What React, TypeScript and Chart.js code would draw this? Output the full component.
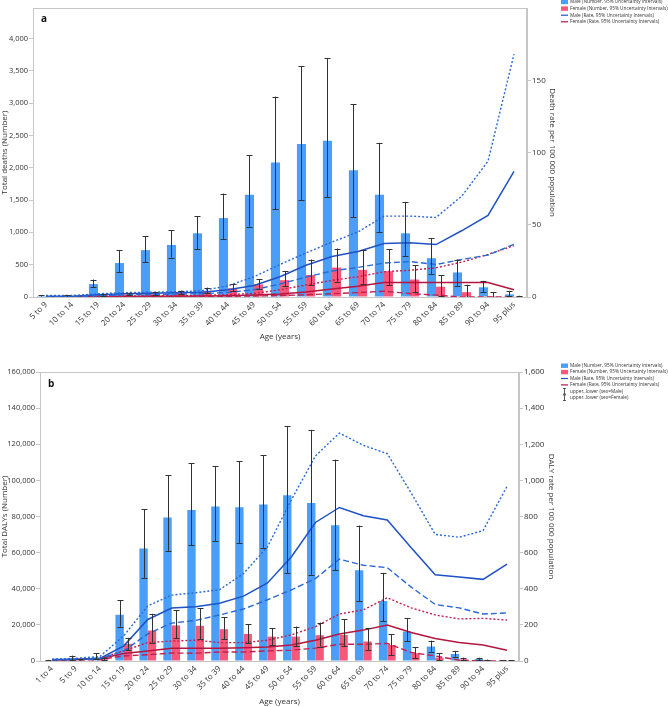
import React, { useEffect, useRef } from 'react';
import { Chart, registerables } from 'chart.js';
Chart.register(...registerables);

// ---------- Panel a: deaths ----------
const agesA = ['5 to 9', '10 to 14', '15 to 19', '20 to 24', '25 to 29', '30 to 34', '35 to 39', '40 to 44', '45 to 49', '50 to 54', '55 to 59', '60 to 64', '65 to 69', '70 to 74', '75 to 79', '80 to 84', '85 to 89', '90 to 94', '95 plus'];
const deathsMale = [15, 10, 200, 525, 725, 805, 985, 1220, 1580, 2080, 2365, 2415, 1960, 1580, 985, 600, 380, 150, 40];
const deathsMaleLow = [5, 3, 150, 380, 540, 610, 740, 900, 1090, 1360, 1500, 1540, 1230, 1000, 630, 360, 170, 70, 10];
const deathsMaleHigh = [30, 28, 270, 720, 940, 1030, 1250, 1600, 2190, 3100, 3570, 3690, 2980, 2385, 1470, 910, 580, 250, 95];
const deathsFemale = [2, 2, 30, 40, 50, 65, 95, 135, 195, 260, 340, 455, 420, 400, 270, 160, 75, 15, 5];
const deathsFemaleLow = [0, 0, 18, 25, 30, 40, 60, 90, 125, 170, 185, 235, 205, 180, 70, 10, 0, 0, 0];
const deathsFemaleHigh = [5, 5, 50, 65, 80, 100, 145, 200, 275, 395, 580, 750, 720, 740, 490, 340, 190, 75, 20];
const deathRateMale = [0.5, 0.5, 1.5, 2.2, 2.6, 2.9, 3.3, 5, 8, 14, 22, 28, 31.5, 37, 37.5, 36.3, 46, 56.5, 87];
const deathRateMaleUpper = [1, 1, 2.2, 3, 3.3, 3.6, 4.4, 7.8, 14, 22.5, 30.5, 38, 45, 56, 56, 55, 70, 94, 168];
const deathRateMaleLower = [0.2, 0.2, 0.8, 1.5, 1.8, 2, 2.3, 3.2, 5, 9, 13.8, 18, 20.5, 23.5, 24.5, 22.5, 26, 29, 36.5];
const deathRateFemale = [0.1, 0.1, 0.3, 0.4, 0.5, 0.6, 0.7, 0.9, 1.3, 2, 3.5, 5.5, 7.5, 10, 10, 10, 10, 10, 5];
const deathRateFemaleUpper = [0.2, 0.2, 0.5, 0.6, 0.8, 1, 1.2, 1.6, 2.5, 5, 8.3, 11.5, 14, 17.5, 18.5, 20.2, 24.2, 29.5, 35.5];
const deathRateFemaleLower = [0, 0, 0.1, 0.2, 0.2, 0.3, 0.3, 0.5, 0.7, 1, 1.5, 2.3, 3, 4, 2.4, 1.3, 0, 0, 0];

// ---------- Panel b: DALYs ----------
const agesB = ['1 to 4', '5 to 9', '10 to 14', '15 to 19', '20 to 24', '25 to 29', '30 to 34', '35 to 39', '40 to 44', '45 to 49', '50 to 54', '55 to 59', '60 to 64', '65 to 69', '70 to 74', '75 to 79', '80 to 84', '85 to 89', '90 to 94', '95 plus'];
const dalysMale = [300, 1500, 2100, 25600, 62300, 79500, 83600, 85500, 85100, 86600, 91800, 87500, 75100, 50200, 33200, 16300, 8000, 3900, 1100, 250];
const dalysMaleLow = [100, 550, 900, 19000, 46000, 61000, 64000, 66400, 65400, 62700, 48800, 47800, 50200, 33200, 21900, 10800, 5200, 2400, 550, 100];
const dalysMaleHigh = [600, 3000, 4300, 33700, 84000, 103000, 109500, 107800, 110500, 114000, 130000, 128000, 111500, 75000, 48800, 23800, 11300, 5600, 1850, 500];
const dalysFemale = [100, 600, 1000, 9500, 16900, 19700, 19500, 17600, 15000, 13500, 13500, 14300, 14500, 10800, 8900, 4300, 1900, 900, 400, 150];
const dalysFemaleLow = [30, 200, 400, 6100, 10200, 12600, 12100, 12100, 9800, 8900, 8300, 8000, 8300, 6100, 3300, 1500, 600, 300, 100, 50];
const dalysFemaleHigh = [200, 1100, 1800, 12800, 26100, 28000, 29300, 24300, 20400, 18200, 19100, 21300, 23200, 18200, 14800, 7600, 4300, 1900, 800, 300];
const dalyRateMale = [8, 10, 14, 84, 230, 293, 300, 320, 359, 432, 577, 767, 850, 804, 781, 627, 478, 465, 452, 536];
const dalyRateMaleUpper = [10, 15, 25, 140, 305, 365, 378, 395, 484, 633, 893, 1135, 1262, 1194, 1148, 930, 701, 685, 722, 967];
const dalyRateMaleLower = [5, 8, 12, 56, 150, 210, 225, 255, 288, 339, 394, 456, 564, 530, 517, 409, 313, 294, 260, 266];
const dalyRateFemale = [5, 8, 12, 41, 56, 71, 71, 71, 74, 78, 89, 115, 149, 171, 199, 158, 125, 102, 89, 60];
const dalyRateFemaleUpper = [6, 10, 15, 56, 102, 110, 115, 102, 102, 115, 145, 190, 260, 283, 350, 294, 255, 233, 236, 227];
const dalyRateFemaleLower = [3, 5, 8, 28, 35, 44, 43, 50, 50, 56, 60, 71, 93, 93, 97, 47, 28, 4, 0, 0];

const legendA = ['Male (Number, 95% Uncertainty Intervals)', 'Female (Number, 95% Uncertainty Intervals)', 'Male (Rate, 95% Uncertainty Intervals)', 'Female (Rate, 95% Uncertainty Intervals)'];
const legendB = [...legendA, 'upper..lower (sex=Male)', 'upper..lower (sex=Female)'];

const BLUE = '#4a9ef8';
const PINK = '#f7587a';
const MALE_LINE = '#1f52c4';
const MALE_LINE2 = '#2a68d4';
const FEMALE_LINE = '#b3163f';
const FEMALE_LINE2 = '#c02050';
const FONT = '"Open Sans", "Noto Sans", sans-serif';
const TEXT = '#333';

type ErrSpec = { ds: number; low: number[]; high: number[] };

function makeErrorPlugin(specs: ErrSpec[]) {
  return {
    id: 'errorBars',
    afterDatasetsDraw(chart: any) {
      const ctx = chart.ctx;
      const ys = chart.scales.y;
      ctx.save();
      ctx.strokeStyle = '#333';
      ctx.lineWidth = 1;
      specs.forEach((s) => {
        const meta = chart.getDatasetMeta(s.ds);
        meta.data.forEach((bar: any, j: number) => {
          const x = Math.round(bar.x) + 0.5;
          const yl = ys.getPixelForValue(s.low[j]);
          const yh = ys.getPixelForValue(s.high[j]);
          ctx.beginPath();
          ctx.moveTo(x, yl);
          ctx.lineTo(x, yh);
          ctx.moveTo(x - 3, Math.round(yl) + 0.5);
          ctx.lineTo(x + 3, Math.round(yl) + 0.5);
          ctx.moveTo(x - 3, Math.round(yh) + 0.5);
          ctx.lineTo(x + 3, Math.round(yh) + 0.5);
          ctx.stroke();
        });
      });
      ctx.restore();
    },
  };
}

type FrameCfg = {
  label: string; lx: number; ly: number;
  legend: string[]; legTop: number; rowH: number;
  yTitle: string; yTitleX: number; y1Title: string; y1TitleX: number; xTitle: string; xTitleY: number;
};

function makeFramePlugin(c: FrameCfg) {
  return {
    id: 'frame',
    afterDraw(chart: any) {
      const ctx = chart.ctx;
      const a = chart.chartArea;
      ctx.save();
      ctx.strokeStyle = '#c6c6c6';
      ctx.lineWidth = 1;
      ctx.strokeRect(Math.round(a.left) + 0.5, Math.round(a.top) + 0.5, Math.round(a.right - a.left) - 1, Math.round(a.bottom - a.top));
      // panel letter
      ctx.fillStyle = '#111';
      ctx.font = 'bold 10px ' + FONT;
      ctx.textBaseline = 'alphabetic';
      ctx.textAlign = 'left';
      ctx.fillText(c.label, c.lx, c.ly);
      // axis titles
      const cy = (a.top + a.bottom) / 2;
      ctx.fillStyle = TEXT;
      ctx.font = '8px ' + FONT;
      ctx.textAlign = 'center';
      ctx.textBaseline = 'middle';
      ctx.save();
      ctx.translate(c.yTitleX, cy);
      ctx.rotate(-Math.PI / 2);
      ctx.fillText(c.yTitle, 0, 0);
      ctx.restore();
      ctx.save();
      ctx.translate(c.y1TitleX, cy);
      ctx.rotate(Math.PI / 2);
      ctx.fillText(c.y1Title, 0, 0);
      ctx.restore();
      ctx.fillText(c.xTitle, (a.left + a.right) / 2, c.xTitleY);
      // legend
      const sx = 561;
      ctx.font = '4.75px ' + FONT;
      ctx.textAlign = 'left';
      ctx.textBaseline = 'middle';
      c.legend.forEach((t, i) => {
        const ry = c.legTop + i * c.rowH;
        if (i === 0 || i === 1) {
          ctx.fillStyle = i === 0 ? BLUE : PINK;
          ctx.fillRect(sx, ry - 2.2, 7, 4.4);
        } else if (i === 2 || i === 3) {
          ctx.strokeStyle = i === 2 ? MALE_LINE : FEMALE_LINE;
          ctx.lineWidth = 1.2;
          ctx.beginPath();
          ctx.moveTo(sx, ry);
          ctx.lineTo(sx + 7, ry);
          ctx.stroke();
        } else {
          ctx.strokeStyle = '#333';
          ctx.lineWidth = 0.8;
          ctx.beginPath();
          ctx.moveTo(sx + 3.5, ry - 2.8);
          ctx.lineTo(sx + 3.5, ry + 2.8);
          ctx.moveTo(sx + 2, ry - 2.8);
          ctx.lineTo(sx + 5, ry - 2.8);
          ctx.moveTo(sx + 2, ry + 2.8);
          ctx.lineTo(sx + 5, ry + 2.8);
          ctx.stroke();
        }
        ctx.fillStyle = '#333';
        ctx.fillText(t, sx + 9, ry);
      });
      ctx.restore();
    },
  };
}

function lineDs(data: number[], color: string, dash: number[], width = 1.5) {
  return {
    type: 'line' as const,
    data,
    yAxisID: 'y1',
    borderColor: color,
    backgroundColor: color,
    borderWidth: width,
    borderDash: dash,
    pointRadius: 0,
    tension: 0,
    fill: false,
    order: 0,
  };
}

function fixedTicks(max: number, step: number, below?: number) {
  return (s: any) => {
    const out: any[] = [];
    for (let v = 0; v <= max + 1e-9; v += step) {
      if (below === undefined || v < below) out.push({ value: v });
    }
    s.ticks = out;
  };
}

function buildConfig(opts: {
  labels: string[];
  male: number[]; female: number[];
  rM: number[]; rMU: number[]; rML: number[];
  rF: number[]; rFU: number[]; rFL: number[];
  yMax: number; yStep: number; y1Max: number; y1Step: number; y1Below?: number;
  padTop: number; padRight: number; yW: number; y1W: number; xH: number;
  plugins: any[];
}) {
  const tickFont = { family: FONT, size: 7.5 };
  return {
    type: 'bar' as const,
    data: {
      labels: opts.labels,
      datasets: [
        { type: 'bar' as const, data: opts.male, backgroundColor: BLUE, yAxisID: 'y', order: 1, categoryPercentage: 0.7, barPercentage: 1.0 },
        { type: 'bar' as const, data: opts.female, backgroundColor: PINK, yAxisID: 'y', order: 1, categoryPercentage: 0.7, barPercentage: 1.0 },
        lineDs(opts.rMU, MALE_LINE2, [2, 2], 1.4),
        lineDs(opts.rML, MALE_LINE2, [6, 3], 1.4),
        lineDs(opts.rM, MALE_LINE, []),
        lineDs(opts.rFU, FEMALE_LINE2, [2, 2], 1.4),
        lineDs(opts.rFL, FEMALE_LINE2, [6, 3], 1.4),
        lineDs(opts.rF, FEMALE_LINE, []),
      ],
    },
    options: {
      responsive: false,
      animation: false as const,
      layout: { padding: { left: 0, right: opts.padRight, top: opts.padTop, bottom: 0 } },
      plugins: { legend: { display: false }, tooltip: { enabled: false } },
      scales: {
        x: {
          offset: true,
          grid: { display: false, drawTicks: false },
          border: { display: true, color: '#c6c6c6' },
          ticks: { font: { family: FONT, size: 8 }, color: TEXT, minRotation: 45, maxRotation: 45, autoSkip: false, padding: 3 },
          title: { display: false },
          afterFit: (s: any) => { s.height = opts.xH; },
        },
        y: {
          position: 'left' as const,
          min: 0,
          max: opts.yMax,
          grid: { drawOnChartArea: false, tickLength: 4, color: '#c6c6c6' },
          border: { display: true, color: '#c6c6c6' },
          ticks: { font: tickFont, color: TEXT, padding: 1, autoSkip: false, callback: (v: any) => Number(v).toLocaleString('en-US') },
          afterBuildTicks: fixedTicks(opts.yMax, opts.yStep),
          title: { display: false },
          afterFit: (s: any) => { s.width = opts.yW; },
        },
        y1: {
          position: 'right' as const,
          min: 0,
          max: opts.y1Max,
          grid: { drawOnChartArea: false, tickLength: 4, color: '#c6c6c6' },
          border: { display: true, color: '#c6c6c6' },
          ticks: { font: { family: FONT, size: 8 }, color: TEXT, padding: 1, autoSkip: false, callback: (v: any) => Number(v).toLocaleString('en-US') },
          afterBuildTicks: fixedTicks(opts.y1Max, opts.y1Step, opts.y1Below),
          title: { display: false },
          afterFit: (s: any) => { s.width = opts.y1W; },
        },
      },
    },
    plugins: opts.plugins,
  };
}

export default function App() {
  const refA = useRef<HTMLCanvasElement | null>(null);
  const refB = useRef<HTMLCanvasElement | null>(null);

  useEffect(() => {
    const cfgA = buildConfig({
      labels: agesA,
      male: deathsMale, female: deathsFemale,
      rM: deathRateMale, rMU: deathRateMaleUpper, rML: deathRateMaleLower,
      rF: deathRateFemale, rFU: deathRateFemaleUpper, rFL: deathRateFemaleLower,
      yMax: 4470, yStep: 500, y1Max: 200, y1Step: 50, y1Below: 200,
      padTop: 8, padRight: 110, yW: 33, y1W: 31, xH: 46,
      plugins: [
        makeErrorPlugin([{ ds: 0, low: deathsMaleLow, high: deathsMaleHigh }, { ds: 1, low: deathsFemaleLow, high: deathsFemaleHigh }]),
        makeFramePlugin({
          label: 'a', lx: 41, ly: 22, legend: legendA, legTop: 2, rowH: 6.6,
          yTitle: 'Total deaths (Number)', yTitleX: 5, y1Title: 'Death rate per 100 000 population', y1TitleX: 552.5,
          xTitle: 'Age (years)', xTitleY: 337,
        }),
      ],
    });
    const cfgB = buildConfig({
      labels: agesB,
      male: dalysMale, female: dalysFemale,
      rM: dalyRateMale, rMU: dalyRateMaleUpper, rML: dalyRateMaleLower,
      rF: dalyRateFemale, rFU: dalyRateFemaleUpper, rFL: dalyRateFemaleLower,
      yMax: 160000, yStep: 20000, y1Max: 1600, y1Step: 200,
      padTop: 17, padRight: 112, yW: 40, y1W: 37, xH: 46,
      plugins: [
        makeErrorPlugin([{ ds: 0, low: dalysMaleLow, high: dalysMaleHigh }, { ds: 1, low: dalysFemaleLow, high: dalysFemaleHigh }]),
        makeFramePlugin({
          label: 'b', lx: 48, ly: 32, legend: legendB, legTop: 10.7, rowH: 6.4,
          yTitle: 'Total DALYs (Number)', yTitleX: 4.5, y1Title: 'DALY rate per 100 000 population', y1TitleX: 551,
          xTitle: 'Age (years)', xTitleY: 347,
        }),
      ],
    });
    const a = new Chart(refA.current as HTMLCanvasElement, cfgA as any);
    const b = new Chart(refB.current as HTMLCanvasElement, cfgB as any);
    return () => { a.destroy(); b.destroy(); };
  }, []);

  return (
    <div style={{ position: 'absolute', left: 0, top: 0, width: 668, height: 707, background: '#fff', overflow: 'hidden' }}>
      <canvas ref={refA} width={668} height={343} style={{ position: 'absolute', left: 0, top: 0, width: 668, height: 343 }} />
      <canvas ref={refB} width={668} height={352} style={{ position: 'absolute', left: 0, top: 355, width: 668, height: 352 }} />
    </div>
  );
}
